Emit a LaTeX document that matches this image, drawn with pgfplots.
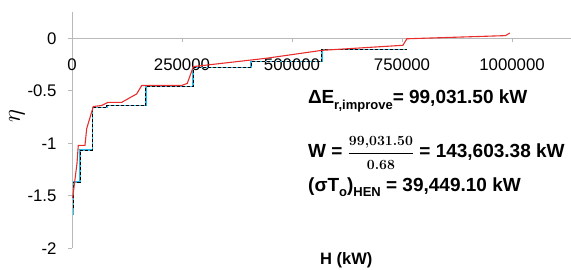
\documentclass[border=0pt]{standalone}
\usepackage{pgfplots}
\pgfplotsset{compat=1.18}
\usepackage{fontspec}
\setmainfont{Liberation Sans}
\newfontfamily\lmr{Latin Modern Roman}
\definecolor{myred}{RGB}{232,45,45}
\definecolor{mycyan}{RGB}{40,185,230}
\begin{document}
\begin{tikzpicture}
\path[use as bounding box] (-72pt,-21.7pt) rectangle (499pt,248.3pt);
\begin{axis}[
  at={(0pt,0pt)}, anchor=south west,
  scale only axis, width=499pt, height=236.3pt,
  xmin=0, xmax=1134000, ymin=-2, ymax=0.25,
  axis x line=middle, axis y line=left,
  axis line style={-, gray!55, line width=0.8pt},
  tick style={gray!55, line width=0.8pt},
  tick align=outside, major tick length=4pt,
  xtick={0,250000,500000,750000,1000000},
  xticklabels={0,250000,500000,750000,1000000},
  ytick={0,-0.5,-1,-1.5,-2},
  yticklabels={0,-0.5,-1,-1.5,-2},
  hide obscured x ticks=false, hide obscured y ticks=false,
  scaled ticks=false,
  ticklabel style={font=\fontsize{16.8}{18}\selectfont, text=black},
  xticklabel style={yshift=-13pt},
  yticklabel style={xshift=-8pt},
  clip=false,
]
\addplot[mycyan, line width=1.3pt] coordinates {
(3900,-1.68) (3900,-1.37) (18200,-1.37) (18200,-1.065) (47000,-1.065) (47000,-0.66)
(79500,-0.66) (79500,-0.64) (168000,-0.64) (168000,-0.46) (275000,-0.46) (275000,-0.28)
(407000,-0.28) (407000,-0.22) (568000,-0.22) (568000,-0.105) (761000,-0.105)};
\addplot[black, line width=1pt, dash pattern=on 3pt off 2pt] coordinates {
(3900,-1.62) (3900,-1.37) (18200,-1.37) (18200,-1.065) (47000,-1.065) (47000,-0.66)
(79500,-0.66) (79500,-0.64) (168000,-0.64) (168000,-0.46) (275000,-0.46) (275000,-0.28)
(407000,-0.28) (407000,-0.22) (568000,-0.22) (568000,-0.105) (761000,-0.105)};
\addplot[myred, line width=1.1pt] coordinates {
(1500,-1.52) (11400,-1.19) (14300,-1.02) (29500,-1.02) (33400,-0.86) (48400,-0.65)
(67500,-0.64) (81800,-0.61) (113000,-0.61) (147000,-0.53) (158400,-0.45) (249000,-0.45)
(262000,-0.43) (275700,-0.27) (442500,-0.19) (568000,-0.115) (752000,-0.067)
(761000,-0.005) (985000,0.025) (995000,0.05)};
\end{axis}
\node[rotate=90, font=\fontsize{25}{26}\selectfont] at (-55pt,132.3pt) {$\eta$};
\begin{scope}[every node/.style={anchor=base west, inner sep=0pt, font=\fontsize{19}{21}\selectfont\bfseries}]
\node at (236pt,144.6pt) {Δ\kern-0.3pt E\raisebox{-0.3em}{\fontsize{13}{14}\selectfont r,improve}= 99,031.50 kW};
\node at (236pt,90.8pt) {W = $\displaystyle\frac{\mbox{\fontsize{14}{15}\selectfont\lmr\bfseries 99,031.50}}{\mbox{\fontsize{14}{15}\selectfont\lmr\bfseries 0.68}}$ = 143,603.38 kW};
\node at (236pt,57pt) {(σT\raisebox{-0.28em}{\fontsize{13}{14}\selectfont o})\raisebox{-0.28em}{\fontsize{13}{14}\selectfont HEN} = 39,449.10 kW};
\node[font=\fontsize{16.5}{17}\selectfont\bfseries] at (248pt,-16.5pt) {H (kW)};
\end{scope}
\end{tikzpicture}
\end{document}
